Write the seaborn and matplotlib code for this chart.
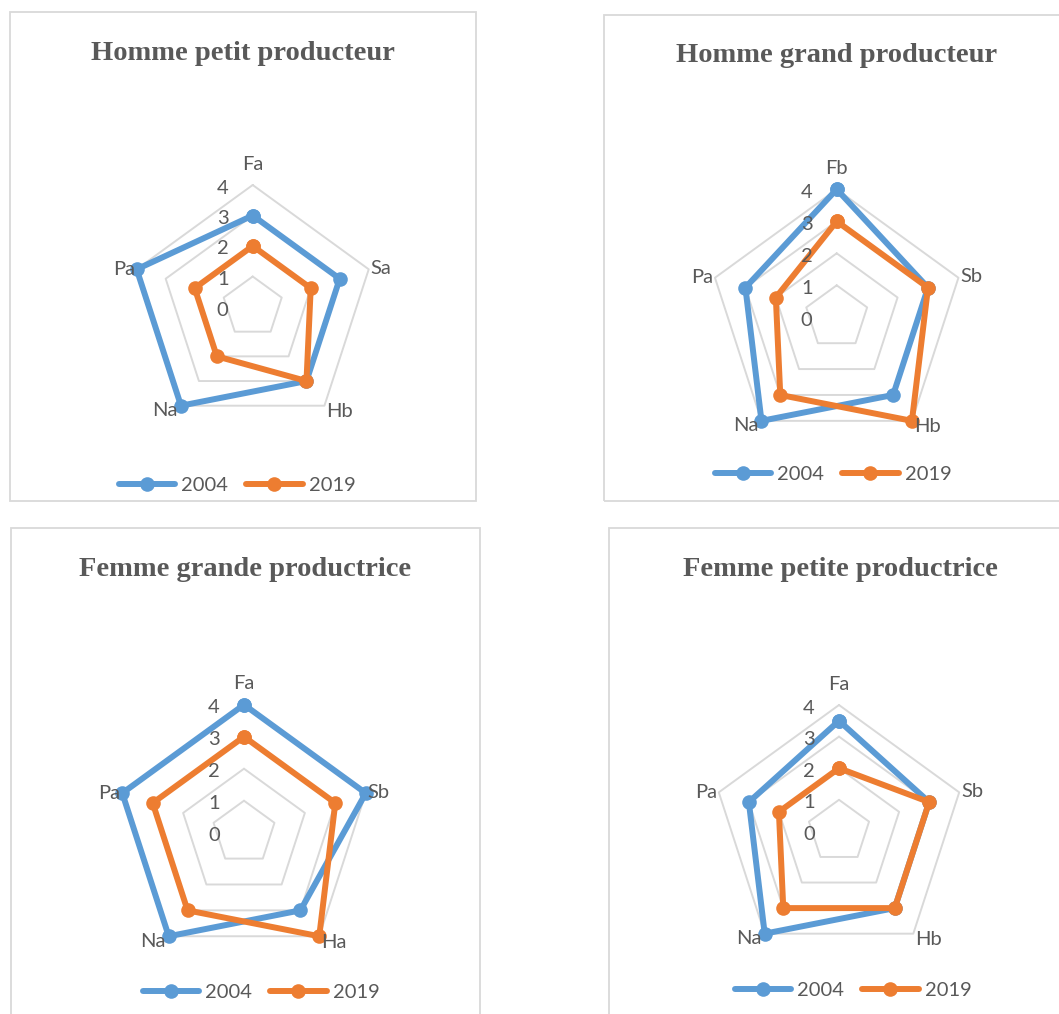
import numpy as np
import pandas as pd
import matplotlib
matplotlib.use("Agg")
import matplotlib.pyplot as plt
from matplotlib.patches import Rectangle
from matplotlib.lines import Line2D
import seaborn as sns

# data (scale 0-4)
years = ["2004", "2019"]

titles = ["Homme petit producteur", "Homme grand producteur",
          "Femme grande productrice", "Femme petite productrice"]

cats_hpp = ["Fa", "Sa", "Hb", "Na", "Pa"]
cats_hgp = ["Fb", "Sb", "Hb", "Na", "Pa"]
cats_fgp = ["Fa", "Sb", "Ha", "Na", "Pa"]
cats_fpp = ["Fa", "Sb", "Hb", "Na", "Pa"]

hpp_2004 = [3, 3, 3, 4, 4]
hpp_2019 = [2, 2, 3, 2, 2]
hgp_2004 = [4, 3, 3, 4, 3]
hgp_2019 = [3, 3, 4, 3, 2]
fgp_2004 = [4, 4, 3, 4, 4]
fgp_2019 = [3, 3, 4, 3, 3]
fpp_2004 = [3.5, 3, 3, 4, 3]
fpp_2019 = [2, 3, 3, 3, 2]

ticks = [0, 1, 2, 3, 4]

BLUE = "#5B9BD5"
ORANGE = "#ED7D31"
GRID = "#D9D9D9"
TXT = "#595959"

sns.set_style("white")
plt.rcParams["font.family"] = ["Lato", "DejaVu Sans"]

W, H = 1059, 1014
fig = plt.figure(figsize=(W / 100, H / 100), dpi=100)

LW = 4.3
MS = 10.5


def frac(x, y, w, h):
    # pixel box (top-left origin) -> figure fraction
    return [x / W, (H - y - h) / H, w / W, h / H]


def radar(cats, v2004, v2019, title, cx, cy, R, title_xy, leg_xy):
    ax = fig.add_axes(frac(cx - R, cy - R, 2 * R, 2 * R), projection="polar")
    ax.set_theta_zero_location("N")
    ax.set_theta_direction(-1)
    n = len(cats)
    theta = np.linspace(0, 2 * np.pi, n + 1)

    # pentagon grid rings
    for v in ticks[1:]:
        ax.plot(theta, [v] * (n + 1), color=GRID, lw=1.4, zorder=1, clip_on=False)

    df = pd.DataFrame({
        "theta": np.concatenate([theta, theta]),
        "value": v2004 + v2004[:1] + v2019 + v2019[:1],
        "year": [years[0]] * (n + 1) + [years[1]] * (n + 1),
    })
    sns.lineplot(data=df, x="theta", y="value", hue="year", palette=[BLUE, ORANGE],
                 sort=False, errorbar=None, marker="o", markersize=MS,
                 markeredgewidth=0, linewidth=LW, legend=False, ax=ax,
                 clip_on=False, zorder=3)

    ax.set_ylim(0, 4)
    ax.grid(False)
    ax.spines["polar"].set_visible(False)
    ax.set_xticks([])
    ax.set_yticks([])
    ax.set_xlabel("")
    ax.set_ylabel("")

    # radial tick labels left of the top axis
    for v in ticks:
        ax.annotate(str(v), xy=(0, v), xytext=(-30, -3), textcoords="offset pixels",
                    ha="center", va="center", fontsize=14.5, color=TXT)

    # category labels
    place = [((0, 21), "center"), ((2, 1), "left"), ((2, -6), "left"),
             ((-3, -5), "right"), ((-2, 0), "right")]
    for i, c in enumerate(cats):
        off, ha = place[i]
        ax.annotate(c, xy=(theta[i], 4), xytext=off, textcoords="offset pixels",
                    ha=ha, va="center", fontsize=14.5, color=TXT, zorder=5)

    fig.text(title_xy[0] / W, 1 - title_xy[1] / H, title, ha="center", va="center",
             fontsize=20.5, fontweight="bold", color=TXT,
             family=["Liberation Serif", "DejaVu Serif"])

    handles = [Line2D([], [], color=BLUE, lw=LW, marker="o", markersize=MS, mew=0),
               Line2D([], [], color=ORANGE, lw=LW, marker="o", markersize=MS, mew=0)]
    fig.legend(handles, years, loc="center", ncol=2, frameon=False,
               bbox_to_anchor=(leg_xy[0] / W, 1 - leg_xy[1] / H),
               fontsize=14.5, labelcolor=TXT, handlelength=2.8, handletextpad=0.3,
               columnspacing=0.9)


# panel frames
for (x, y, w, h) in [(10, 12, 466, 489), (604, 15, 480, 486),
                     (11, 528, 469, 520), (609, 528, 480, 520)]:
    fig.add_artist(Rectangle((x / W, (H - y - h) / H), w / W, h / H,
                             transform=fig.transFigure, fill=False,
                             edgecolor=GRID, lw=1.3))

radar(cats_hpp, hpp_2004, hpp_2019, titles[0], 252.7, 307, 122, (243, 53), (237, 485))
radar(cats_hgp, hgp_2004, hgp_2019, titles[1], 836.7, 317.3, 128, (837, 56), (833, 474))
radar(cats_fgp, fgp_2004, fgp_2019, titles[2], 244, 832.7, 128, (245, 569), (261, 992))
radar(cats_fpp, fpp_2004, fpp_2019, titles[3], 839, 831.4, 126.4, (840, 569), (853, 990))

fig.savefig("out.png", dpi=100, facecolor="white")
